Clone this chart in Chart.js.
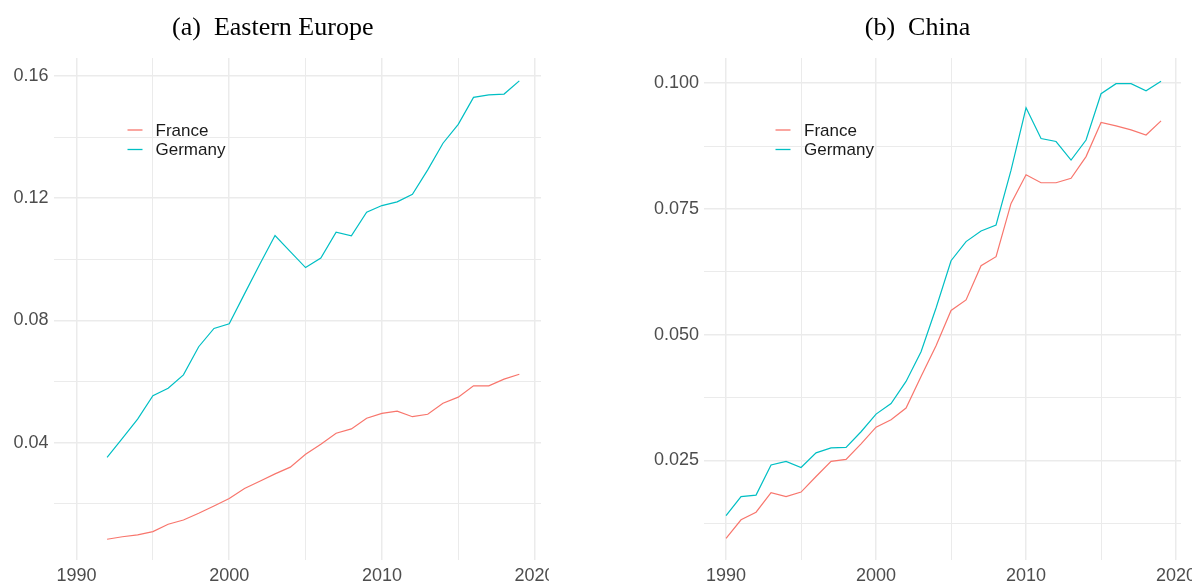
<!DOCTYPE html>
<html>
<head>
<meta charset="utf-8">
<script src="https://cdn.jsdelivr.net/npm/chart.js@4.4.0/dist/chart.umd.min.js"></script>
<style>
  body { margin: 0; background: #fff; width: 1192px; height: 584px; overflow: hidden; position: relative; }
  canvas { position: absolute; top: 0; }
  #ee_chart { left: 0; }
  #cn_chart { left: 600px; }
</style>
</head>
<body>
<canvas id="ee_chart" width="549" height="584"></canvas>
<canvas id="cn_chart" width="592" height="584"></canvas>
<script>
// 데이터
var seriesNames = ['France', 'Germany'];
var seriesColors = ['#F8766D', '#00BFC4'];

// (a) Eastern Europe
var eeYears = [1992, 1993, 1994, 1995, 1996, 1997, 1998, 1999, 2000, 2001, 2002, 2003, 2004, 2005,
  2006, 2007, 2008, 2009, 2010, 2011, 2012, 2013, 2014, 2015, 2016, 2017, 2018, 2019];
var eeFrance = [0.0084, 0.0092, 0.0098, 0.0109, 0.0133, 0.0147, 0.0169, 0.0193, 0.0217, 0.0250, 0.0274, 0.0298, 0.0320, 0.0362,
  0.0395, 0.0431, 0.0445, 0.0480, 0.0496, 0.0503, 0.0485, 0.0493, 0.0529, 0.0549, 0.0586, 0.0586, 0.0608, 0.0624];
var eeGermany = [0.0352, 0.0414, 0.0477, 0.0554, 0.0578, 0.0622, 0.0714, 0.0774, 0.0789, 0.0887, 0.0984, 0.1078, 0.1025, 0.0973,
  0.1004, 0.1089, 0.1077, 0.1154, 0.1176, 0.1188, 0.1213, 0.1293, 0.1380, 0.1442, 0.1530, 0.1538, 0.1541, 0.1584];
var eeYTicks = [0.02, 0.04, 0.06, 0.08, 0.10, 0.12, 0.14, 0.16];
var eeYLabels = ['', '0.04', '', '0.08', '', '0.12', '', '0.16'];

// (b) China
var cnYears = [1990, 1991, 1992, 1993, 1994, 1995, 1996, 1997, 1998, 1999, 2000, 2001, 2002, 2003, 2004,
  2005, 2006, 2007, 2008, 2009, 2010, 2011, 2012, 2013, 2014, 2015, 2016, 2017, 2018, 2019];
var cnFrance = [0.0095, 0.0132, 0.0147, 0.0186, 0.0178, 0.0187, 0.0218, 0.0248, 0.0252, 0.0283, 0.0316, 0.0331, 0.0354, 0.0417, 0.0478,
  0.0548, 0.0569, 0.0637, 0.0655, 0.0761, 0.0818, 0.0802, 0.0802, 0.0811, 0.0854, 0.0922, 0.0915, 0.0907, 0.0897, 0.0925];
var cnGermany = [0.0140, 0.0178, 0.0181, 0.0241, 0.0248, 0.0236, 0.0265, 0.0275, 0.0276, 0.0307, 0.0342, 0.0363, 0.0407, 0.0466, 0.0553,
  0.0647, 0.0685, 0.0706, 0.0718, 0.0827, 0.0951, 0.0890, 0.0884, 0.0847, 0.0887, 0.0979, 0.0999, 0.0999, 0.0985, 0.1004];
var cnYTicks = [0.0125, 0.025, 0.0375, 0.05, 0.0625, 0.075, 0.0875, 0.1];
var cnYLabels = ['', '0.025', '', '0.050', '', '0.075', '', '0.100'];

var xTicks = [1990, 1995, 2000, 2005, 2010, 2015, 2020];
var xLabels = ['1990', '', '2000', '', '2010', '', '2020'];

var GRID = '#ebebeb';
var TICK_FONT = { family: "'Liberation Sans', Arial, sans-serif", size: 18 };

// 범례를 패널 안쪽에 그리는 플러그인
var insideLegend = {
  id: 'insideLegend',
  afterDraw: function(chart, args, opts) {
    var ctx = chart.ctx;
    var area = chart.chartArea;
    ctx.save();
    ctx.font = '17px "Liberation Sans", Arial, sans-serif';
    ctx.textBaseline = 'middle';
    chart.data.datasets.forEach(function(ds, i) {
      var y = area.top + opts.top + i * opts.rowGap;
      ctx.strokeStyle = ds.borderColor;
      ctx.lineWidth = 1.3;
      ctx.beginPath();
      ctx.moveTo(area.left + opts.lineX, y);
      ctx.lineTo(area.left + opts.lineX + 15, y);
      ctx.stroke();
      ctx.fillStyle = '#1a1a1a';
      ctx.fillText(ds.label, area.left + opts.textX, y + 1);
    });
    ctx.restore();
  }
};

function toPoints(xs, ys) {
  return xs.map(function(x, i) { return { x: x, y: ys[i] }; });
}

function makeChart(id, title, years, france, germany, yTicks, yLabels, box) {
  var ctx = document.getElementById(id).getContext('2d');
  return new Chart(ctx, {
    type: 'line',
    data: {
      datasets: [france, germany].map(function(vals, i) {
        return {
          label: seriesNames[i],
          data: toPoints(years, vals),
          borderColor: seriesColors[i],
          borderWidth: 1.2,
          pointRadius: 0,
          tension: 0,
          fill: false
        };
      })
    },
    options: {
      responsive: false,
      animation: false,
      events: [],
      layout: { padding: { left: box.padLeft, right: box.padRight, top: 0, bottom: 0 } },
      scales: {
        x: {
          type: 'linear',
          min: box.xMin,
          max: box.xMax,
          border: { display: false },
          grid: {
            color: GRID,
            drawTicks: false,
            lineWidth: function(c) { return c.tick && c.tick.value % 10 === 0 ? 1.5 : 1; }
          },
          ticks: {
            autoSkip: false,
            maxRotation: 0,
            padding: 5,
            color: '#4d4d4d',
            font: TICK_FONT,
            callback: function(value) {
              var k = xTicks.indexOf(value);
              return k >= 0 ? xLabels[k] : '';
            }
          },
          afterBuildTicks: function(scale) {
            scale.ticks = xTicks.map(function(v) { return { value: v }; });
          },
          afterFit: function(scale) {
            scale.height = 24;
            scale.paddingLeft = 0;
            scale.paddingRight = 0;
          }
        },
        y: {
          type: 'linear',
          min: box.yMin,
          max: box.yMax,
          border: { display: false },
          grid: {
            color: GRID,
            drawTicks: false,
            lineWidth: function(c) {
              var k = c.tick ? yTicks.indexOf(c.tick.value) : -1;
              return k >= 0 && yLabels[k] !== '' ? 1.5 : 1;
            }
          },
          ticks: {
            autoSkip: false,
            padding: 5,
            color: '#4d4d4d',
            font: TICK_FONT,
            callback: function(value) {
              var k = yTicks.indexOf(value);
              return k >= 0 ? yLabels[k] : '';
            }
          },
          afterBuildTicks: function(scale) {
            scale.ticks = yTicks.map(function(v) { return { value: v }; });
          },
          afterFit: function(scale) {
            scale.width = box.yAxisWidth;
            scale.paddingTop = 0;
            scale.paddingBottom = 0;
          }
        }
      },
      plugins: {
        legend: { display: false },
        tooltip: { enabled: false },
        title: {
          display: true,
          text: title,
          color: '#000',
          font: { family: "'Liberation Serif', 'Times New Roman', serif", size: 26, weight: 'normal', lineHeight: 1.2 },
          padding: { top: 12.5, bottom: 14.3 }
        },
        insideLegend: box.legend
      }
    },
    plugins: [insideLegend]
  });
}

makeChart('ee_chart', '(a)  Eastern Europe', eeYears, eeFrance, eeGermany, eeYTicks, eeYLabels, {
  padLeft: 4.5, padRight: 8, yAxisWidth: 49,
  xMin: 1988.49, xMax: 2020.42, yMin: 0.0016, yMax: 0.1659,
  legend: { lineX: 74, textX: 102, top: 72, rowGap: 19.5 }
});

makeChart('cn_chart', '(b)  China', cnYears, cnFrance, cnGermany, cnYTicks, cnYLabels, {
  padLeft: 54, padRight: 11, yAxisWidth: 50,
  xMin: 1988.53, xMax: 2020.33, yMin: 0.0052, yMax: 0.105,
  legend: { lineX: 71.5, textX: 100, top: 72, rowGap: 19.5 }
});
</script>
</body>
</html>
